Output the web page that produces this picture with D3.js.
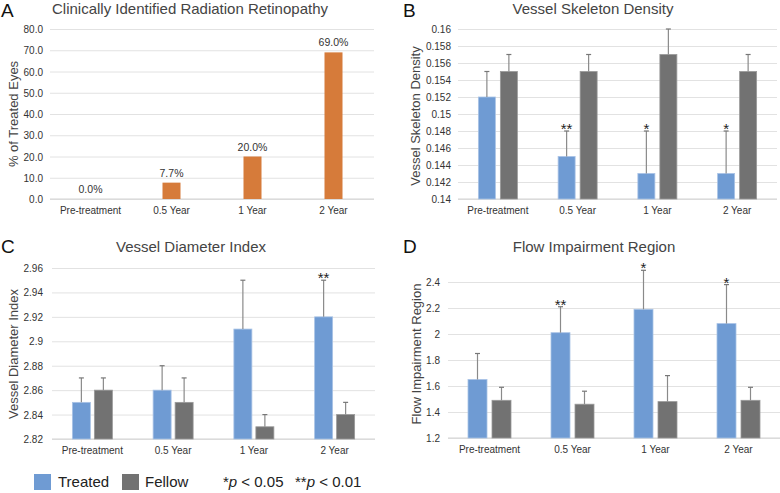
<!DOCTYPE html>
<html><head><meta charset="utf-8">
<script src="https://cdn.jsdelivr.net/npm/d3@7"></script>
<style>
html,body{margin:0;padding:0;background:#fff;}
svg{display:block;font-family:"Liberation Sans",Arial,Helvetica,sans-serif;}
</style></head>
<body><svg id="c" width="780" height="493"></svg>
<script>
const categories = ["Pre-treatment","0.5 Year","1 Year","2 Year"];
const retinopathyPct = [0.0, 7.7, 20.0, 69.0];
const retinopathyLabels = ["0.0%","7.7%","20.0%","69.0%"];
const ticksA = [0,10,20,30,40,50,60,70,80];

const skelTreated = [0.152,0.145,0.143,0.143];
const skelTreatedErr = [0.003,0.003,0.005,0.005];
const skelFellow = [0.155,0.155,0.157,0.155];
const skelFellowErr = [0.002,0.002,0.003,0.002];
const skelSig = ["","**","*","*"];
const ticksB = [0.14,0.142,0.144,0.146,0.148,0.15,0.152,0.154,0.156,0.158,0.16];

const diamTreated = [2.85,2.86,2.91,2.92];
const diamTreatedErr = [0.02,0.02,0.04,0.03];
const diamFellow = [2.86,2.85,2.83,2.84];
const diamFellowErr = [0.01,0.02,0.01,0.01];
const diamSig = ["","","","**"];
const ticksC = [2.82,2.84,2.86,2.88,2.9,2.92,2.94,2.96];

const flowTreated = [1.65,2.01,2.19,2.08];
const flowTreatedErr = [0.20,0.20,0.30,0.30];
const flowFellow = [1.49,1.46,1.48,1.49];
const flowFellowErr = [0.10,0.10,0.20,0.10];
const flowSig = ["","**","*","*"];
const ticksD = [1.2,1.4,1.6,1.8,2.0,2.2,2.4];

const seriesNames = ["Treated","Fellow"];
const C_BLUE = "#6f9bd3", C_GRAY = "#727272", C_ORANGE = "#d67b3a";
const GRID = "#e2e2e2", TXT = "#333", TITLE = "#444";

const svg = d3.select("#c");
const fmt = v => String(+v.toFixed(3));

function panel(o){
  const g = svg.append("g");
  const x = d3.scaleBand().domain(categories).range([o.x0,o.x1]).paddingInner(0).paddingOuter(0);
  const y = d3.scaleLinear().domain(o.domain).range([o.yb,o.yt]);
  const ax = d3.axisLeft(y).tickValues(o.ticks).tickFormat(o.tickFmt).tickSize(-(o.x1-o.x0)).tickPadding(0);
  const ag = g.append("g").attr("transform",`translate(${o.x0},0)`).call(ax);
  ag.select(".domain").remove();
  ag.selectAll(".tick line").attr("stroke",GRID).attr("stroke-width",1);
  ag.selectAll(".tick text").attr("x",o.tickX - o.x0).attr("fill",TXT)
    .style("font-size","10px").style("font-family","Liberation Sans, Arial, sans-serif").attr("dy","0.35em");
  g.append("line").attr("x1",o.x0).attr("x2",o.x1).attr("y1",y(o.domain[0])).attr("y2",y(o.domain[0]))
    .attr("stroke","#d3d3d3");
  const xa = d3.axisBottom(x).tickSize(0).tickPadding(0);
  const xg = g.append("g").attr("transform",`translate(0,${o.catY})`).call(xa);
  xg.select(".domain").remove();
  xg.selectAll(".tick text").attr("fill",TXT).attr("dy","0.35em").attr("y",0)
    .style("font-size","10px").style("font-family","Liberation Sans, Arial, sans-serif");
  g.append("text").attr("x",o.titleX).attr("y",o.titleY).attr("text-anchor","middle")
    .attr("fill",TITLE).style("font-size","15px").text(o.title);
  g.append("text").attr("x",o.letterX).attr("y",o.letterY).attr("fill","#111")
    .style("font-size","19px").text(o.letter);
  g.append("text").attr("transform",`translate(${o.ylabX},${o.ylabY}) rotate(-90)`)
    .attr("text-anchor","middle").attr("fill",TITLE).style("font-size","13px").text(o.ylab);
  return {g,x,y};
}

// Panel A
(function(){
  const p = panel({x0:50,x1:374,yt:29,yb:199,domain:[0,80],ticks:ticksA,tickFmt:d3.format(".1f"),tickX:43,
    catY:210,title:"Clinically Identified Radiation Retinopathy",titleX:190,titleY:14,letter:"A",letterX:1,letterY:17,
    ylab:"% of Treated Eyes",ylabX:18,ylabY:114});
  const bw = 18;
  p.g.selectAll("rect.a").data(retinopathyPct).join("rect")
    .attr("x",(d,i)=>p.x(categories[i])+p.x.bandwidth()/2-bw/2)
    .attr("y",d=>p.y(d)).attr("width",bw).attr("height",d=>p.y(0)-p.y(d)).attr("fill",C_ORANGE);
  p.g.selectAll("text.lab").data(retinopathyPct).join("text")
    .attr("x",(d,i)=>p.x(categories[i])+p.x.bandwidth()/2).attr("y",d=>p.y(d)-6)
    .attr("text-anchor","middle").attr("fill",TXT).style("font-size","10.5px")
    .text((d,i)=>retinopathyLabels[i]);
})();

function grouped(p, tv, te, fv, fe, sig, bw, gap){
  const sets = [[tv,te,C_BLUE,-1],[fv,fe,C_GRAY,1]];
  sets.forEach(([vals,errs,col,side])=>{
    const xs = i => p.x(categories[i])+p.x.bandwidth()/2 + (side<0 ? -gap/2-bw : gap/2);
    p.g.append("g").selectAll("rect").data(vals).join("rect")
      .attr("x",(d,i)=>xs(i)).attr("y",d=>p.y(d)).attr("width",bw)
      .attr("height",d=>p.y.range()[0]-p.y(d)).attr("fill",col)
      .attr("stroke", side<0 ? "#a9c3e6" : "#9a9a9a").attr("stroke-width",0.8);
    const eg = p.g.append("g");
    vals.forEach((d,i)=>{
      const cx = xs(i)+bw/2, y0=p.y(d), y1=p.y(d+errs[i]);
      eg.append("line").attr("x1",cx).attr("x2",cx).attr("y1",y0).attr("y2",y1).attr("stroke","#8a8a8a").attr("stroke-width",1.2);
      eg.append("line").attr("x1",cx-2.5).attr("x2",cx+2.5).attr("y1",y1).attr("y2",y1).attr("stroke","#777").attr("stroke-width",1.2);
    });
  });
  p.g.append("g").selectAll("text").data(sig).join("text")
    .attr("x",(d,i)=>p.x(categories[i])+p.x.bandwidth()/2-gap/2-bw/2)
    .attr("y",(d,i)=>p.y(tv[i]+te[i])+3)
    .attr("text-anchor","middle").attr("fill","#222").style("font-size","15px").text(d=>d);
}

// Panel B
(function(){
  const p = panel({x0:458,x1:777,yt:29,yb:199,domain:[0.14,0.16],ticks:ticksB,tickFmt:fmt,tickX:451,
    catY:210,title:"Vessel Skeleton Density",titleX:593,titleY:14,letter:"B",letterX:403,letterY:17,
    ylab:"Vessel Skeleton Density",ylabX:420,ylabY:116});
  grouped(p, skelTreated, skelTreatedErr, skelFellow, skelFellowErr, skelSig, 17, 5);
})();

// Panel C
(function(){
  const p = panel({x0:52,x1:375,yt:268,yb:439,domain:[2.82,2.96],ticks:ticksC,tickFmt:fmt,tickX:43,
    catY:450,title:"Vessel Diameter Index",titleX:191,titleY:252,letter:"C",letterX:1,letterY:253,
    ylab:"Vessel Diameter Index",ylabX:18,ylabY:354});
  grouped(p, diamTreated, diamTreatedErr, diamFellow, diamFellowErr, diamSig, 18, 4);
})();

// Panel D
(function(){
  const p = panel({x0:448,x1:780,yt:282,yb:438,domain:[1.2,2.4],ticks:ticksD,tickFmt:fmt,tickX:440,
    catY:449,title:"Flow Impairment Region",titleX:594,titleY:252,letter:"D",letterX:403,letterY:253,
    ylab:"Flow Impairment Region",ylabX:421,ylabY:354});
  grouped(p, flowTreated, flowTreatedErr, flowFellow, flowFellowErr, flowSig, 19, 5);
})();

// Legend
const lg = svg.append("g");
const legX = [34,122], legTX = [58,145];
seriesNames.forEach((s,i)=>{
  lg.append("rect").attr("x",legX[i]).attr("y",474).attr("width",17).attr("height",16)
    .attr("fill",i===0?C_BLUE:C_GRAY);
  lg.append("text").attr("x",legTX[i]).attr("y",487).attr("fill","#222").style("font-size","15px").text(s);
});
const sigT = lg.append("text").attr("x",223).attr("y",487).attr("fill","#222").style("font-size","15px");
sigT.append("tspan").text("*");
sigT.append("tspan").style("font-style","italic").text("p");
sigT.append("tspan").text(" < 0.05");
const sigT2 = lg.append("text").attr("x",295).attr("y",487).attr("fill","#222").style("font-size","15px");
sigT2.append("tspan").text("**");
sigT2.append("tspan").style("font-style","italic").text("p");
sigT2.append("tspan").text(" < 0.01");
</script></body></html>
